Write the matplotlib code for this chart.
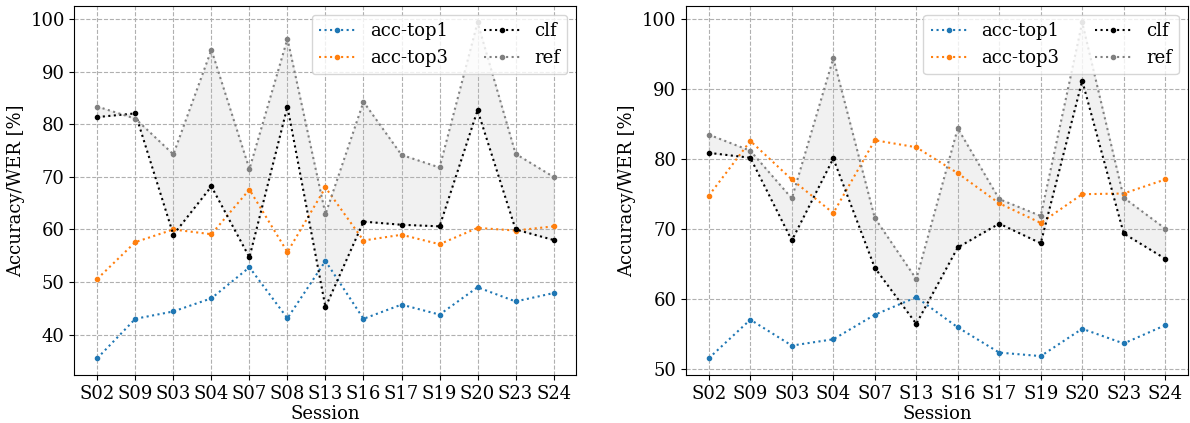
import numpy as np
import matplotlib
matplotlib.use('Agg')
import matplotlib.pyplot as plt

plt.rcParams['font.family'] = 'DejaVu Serif'
plt.rcParams['font.size'] = 13

# 左图数据
sessions_a = ['S02', 'S09', 'S03', 'S04', 'S07', 'S08', 'S13', 'S16', 'S17', 'S19', 'S20', 'S23', 'S24']
top1_a = [35.5, 43.0, 44.4, 46.9, 52.8, 43.1, 54.0, 43.0, 45.7, 43.8, 49.0, 46.3, 47.9]
top3_a = [50.6, 57.6, 60.0, 59.1, 67.6, 55.7, 68.0, 57.9, 59.0, 57.2, 60.3, 59.8, 60.6]
clf_a = [81.4, 82.1, 59.0, 68.2, 54.7, 83.4, 45.2, 61.5, 60.9, 60.6, 82.7, 60.0, 58.0]
ref_a = [83.4, 81.1, 74.3, 94.2, 71.5, 96.3, 62.9, 84.3, 74.2, 71.8, 99.4, 74.4, 70.0]

# 右图数据
sessions_b = ['S02', 'S09', 'S03', 'S04', 'S07', 'S13', 'S16', 'S17', 'S19', 'S20', 'S23', 'S24']
top1_b = [51.6, 57.1, 53.4, 54.3, 57.8, 60.3, 56.0, 52.4, 51.9, 55.8, 53.7, 56.3]
top3_b = [74.8, 82.6, 77.1, 72.3, 82.7, 81.7, 78.0, 73.7, 70.9, 75.0, 75.1, 77.1]
clf_b = [80.9, 80.2, 68.4, 80.1, 64.5, 56.5, 67.4, 70.8, 68.0, 91.2, 69.4, 65.8]
ref_b = [83.5, 81.2, 74.4, 94.4, 71.6, 62.9, 84.4, 74.3, 71.9, 99.5, 74.5, 70.1]


def plot_panel(ax, sessions, top1, top3, clf, ref):
    x = np.arange(len(sessions))
    ax.plot(x, top1, ':', marker='.', color='C0', label='acc-top1')
    ax.plot(x, top3, ':', marker='.', color='C1', label='acc-top3')
    ax.plot(x, clf, ':', marker='.', color='black', label='clf')
    ax.plot(x, ref, ':', marker='.', color='gray', label='ref')
    ax.fill_between(x, clf, ref, color='lightgray', alpha=0.3)
    ax.set_xticks(x)
    ax.set_xticklabels(sessions)
    ax.set_xlabel('Session', labelpad=2)
    ax.set_ylabel('Accuracy/WER [%]')
    ax.grid(True, linestyle='--')
    ax.legend(loc='upper right', ncol=2)


fig = plt.figure(figsize=(11.9, 4.23), dpi=100)
ax1 = fig.add_axes([0.0626, 0.1135, 0.4218, 0.873])
ax2 = fig.add_axes([0.5765, 0.1135, 0.4218, 0.873])
plot_panel(ax1, sessions_a, top1_a, top3_a, clf_a, ref_a)
plot_panel(ax2, sessions_b, top1_b, top3_b, clf_b, ref_b)

plt.savefig('out.png', dpi=100)
